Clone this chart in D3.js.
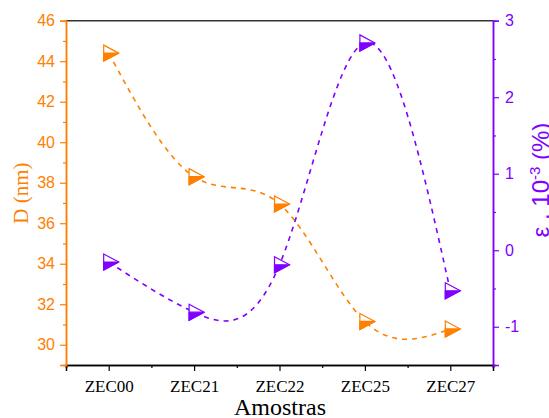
<!DOCTYPE html>
<html>
<head>
<meta charset="utf-8">
<script src="https://cdn.jsdelivr.net/npm/d3@7"></script>
<style>
  body { margin: 0; background: #fff; }
  svg { display: block; }
</style>
</head>
<body>
<div id="chart"></div>
<script>
const samples = ['ZEC00', 'ZEC21', 'ZEC22', 'ZEC25', 'ZEC27'];
const crystalSize = [44.4, 38.3, 36.95, 31.15, 30.78];
const strain = [-0.155, -0.81, -0.19, 2.71, -0.53];
const leftTicks = [30, 32, 34, 36, 38, 40, 42, 44, 46];
const leftMinor = [29, 31, 33, 35, 37, 39, 41, 43, 45];
const rightTicks = [-1, 0, 1, 2, 3];
const rightMinor = [-1.5, -0.5, 0.5, 1.5, 2.5];

const ORANGE = '#ff8000';
const PURPLE = '#8000ff';

const width = 549, height = 418;
const margin = { top: 20.7, right: 56, bottom: 53, left: 66 };
const w = width - margin.left - margin.right;
const h = height - margin.top - margin.bottom;

const svg = d3.select('#chart').append('svg')
    .attr('width', width)
    .attr('height', height);

const g = svg.append('g')
    .attr('transform', `translate(${margin.left},${margin.top})`);

const x = d3.scaleLinear().domain([0.5, 5.5]).range([0, w]);
const yL = d3.scaleLinear().domain([29, 46]).range([h, 0]);
const yR = d3.scaleLinear().domain([-1.5, 3]).range([h, 0]);

// top frame
g.append('line')
    .attr('x1', 0).attr('x2', w).attr('y1', 0).attr('y2', 0)
    .attr('stroke', '#333').attr('stroke-width', 1.5);

function styleAxis(sel, color, font, size) {
    sel.attr('font-family', font).attr('font-size', size);
    sel.select('.domain').attr('stroke', color).attr('stroke-width', 1.5);
    sel.selectAll('.tick line').attr('stroke', color).attr('stroke-width', 1.2);
    sel.selectAll('.tick text')
        .attr('fill', color)
        .style('font-family', font)
        .style('font-size', size);
}

// bottom axis
const xMinor = g.append('g')
    .attr('transform', `translate(0,${h})`)
    .call(d3.axisBottom(x).tickValues([0.5, 1.5, 2.5, 3.5, 4.5, 5.5])
        .tickSize(3).tickFormat(''));
styleAxis(xMinor, '#000', 'Liberation Serif', '17px');

const xAxis = g.append('g')
    .attr('transform', `translate(0,${h})`)
    .call(d3.axisBottom(x).tickValues([1, 2, 3, 4, 5])
        .tickSize(6).tickPadding(9).tickFormat(d => samples[d - 1]));
styleAxis(xAxis, '#000', 'Liberation Serif', '17px');

// left axis
const lMinor = g.append('g')
    .call(d3.axisLeft(yL).tickValues(leftMinor).tickSize(3).tickFormat(''));
styleAxis(lMinor, ORANGE, 'Liberation Sans', '16px');
const lAxis = g.append('g')
    .call(d3.axisLeft(yL).tickValues(leftTicks).tickSize(6).tickPadding(5));
styleAxis(lAxis, ORANGE, 'Liberation Sans', '16px');

// right axis
const rMinor = g.append('g')
    .attr('transform', `translate(${w},0)`)
    .call(d3.axisRight(yR).tickValues(rightMinor).tickSize(3).tickFormat(''));
styleAxis(rMinor, PURPLE, 'Liberation Sans', '16px');
const rAxis = g.append('g')
    .attr('transform', `translate(${w},0)`)
    .call(d3.axisRight(yR).tickValues(rightTicks).tickSize(6).tickPadding(6)
        .tickFormat(d => String(d)));
styleAxis(rAxis, PURPLE, 'Liberation Sans', '16px');

// titles
svg.append('text')
    .attr('x', margin.left + w / 2 + 0.5)
    .attr('y', 415)
    .attr('text-anchor', 'middle')
    .style('font-family', 'Liberation Serif')
    .style('font-size', '24px')
    .text('Amostras');

svg.append('text')
    .attr('transform', 'translate(28,193) rotate(-90)')
    .attr('text-anchor', 'middle')
    .attr('fill', ORANGE)
    .style('font-family', 'Liberation Serif')
    .style('font-size', '21px')
    .text('D (nm)');

const rt = svg.append('text')
    .attr('transform', 'translate(549,180) rotate(-90)')
    .attr('text-anchor', 'middle')
    .attr('fill', PURPLE)
    .style('font-family', 'Liberation Sans')
    .style('font-size', '24px');
rt.append('tspan').text('ε . 10');
rt.append('tspan').attr('dy', -9).style('font-size', '15px').text('-3');
rt.append('tspan').attr('dy', 9).text(' (%)');

// series
function drawSeries(values, yScale, color) {
    const pts = values.map((v, i) => [x(i + 1), yScale(v)]);
    g.append('path')
        .datum(pts)
        .attr('fill', 'none')
        .attr('stroke', color)
        .attr('stroke-width', 1.6)
        .attr('stroke-dasharray', '5,5')
        .attr('d', d3.line().curve(d3.curveNatural));

    const m = g.selectAll(null).data(pts).enter().append('g')
        .attr('transform', d => `translate(${d[0]},${d[1]})`);
    m.append('path')
        .attr('d', 'M-5,-8L10,0L-5,8Z')
        .attr('fill', '#fff')
        .attr('stroke', color)
        .attr('stroke-width', 1.2);
    m.append('path')
        .attr('d', 'M-5,0L10,0L-5,8Z')
        .attr('fill', color)
        .attr('stroke', color)
        .attr('stroke-width', 1.2);
}

drawSeries(crystalSize, yL, ORANGE);
drawSeries(strain, yR, PURPLE);
</script>
</body>
</html>
